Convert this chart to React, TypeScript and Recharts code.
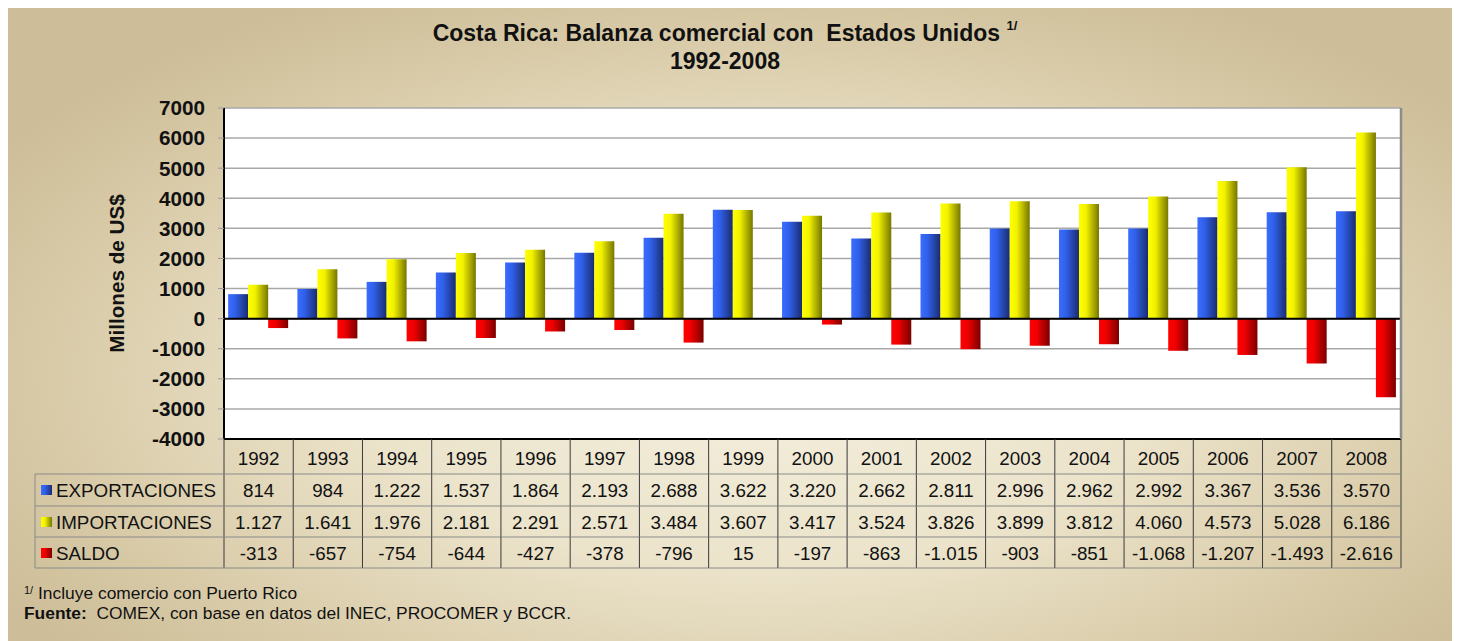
import { BarChart, Bar, XAxis, YAxis, CartesianGrid, ReferenceLine, Label } from 'recharts';

const years = ['1992', '1993', '1994', '1995', '1996', '1997', '1998', '1999', '2000', '2001', '2002', '2003', '2004', '2005', '2006', '2007', '2008'];
const exportaciones = [814, 984, 1222, 1537, 1864, 2193, 2688, 3622, 3220, 2662, 2811, 2996, 2962, 2992, 3367, 3536, 3570];
const importaciones = [1127, 1641, 1976, 2181, 2291, 2571, 3484, 3607, 3417, 3524, 3826, 3899, 3812, 4060, 4573, 5028, 6186];
const saldo = [-313, -657, -754, -644, -427, -378, -796, 15, -197, -863, -1015, -903, -851, -1068, -1207, -1493, -2616];
const yTicks = [-4000, -3000, -2000, -1000, 0, 1000, 2000, 3000, 4000, 5000, 6000, 7000];

const data = years.map((year, i) => ({
  year,
  exp: exportaciones[i],
  imp: importaciones[i],
  saldo: saldo[i],
}));

const FONT = "'Liberation Sans', Arial, sans-serif";
const W = 1444;
const H = 633;
const MARGIN = { top: 100, right: 50, bottom: 73, left: 0 };
const Y_W = 216;
const X_H = 129;
const PLOT_L = MARGIN.left + Y_W;
const PLOT_R = W - MARGIN.right - 1;
const PLOT_B = H - MARGIN.bottom - X_H;
const BW = (PLOT_R - PLOT_L) / years.length;

// table rows under the plot
const ROW_LINES = [PLOT_B + 35, PLOT_B + 67, PLOT_B + 98, PLOT_B + 129];
const ROW_TEXT = [PLOT_B + 19, PLOT_B + 51, PLOT_B + 83, PLOT_B + 114];
const LEGEND_L = 27;

const rows = [
  { name: 'EXPORTACIONES', values: exportaciones, grad: 'gBlue' },
  { name: 'IMPORTACIONES', values: importaciones, grad: 'gYellow' },
  { name: 'SALDO', values: saldo, grad: 'gRed' },
];

const fmt = (n: number) => {
  const s = Math.abs(n).toString().replace(/\B(?=(\d{3})+(?!\d))/g, '.');
  return n < 0 ? '-' + s : s;
};

const TableTick = (props: any) => {
  const { x, payload, index } = props;
  const i = index ?? payload.index;
  const left = x - BW / 2;
  const right = x + BW / 2;
  const txt = { fontFamily: FONT, fontSize: 18.8, fill: '#111' };
  return (
    <g>
      <line x1={left} x2={left} y1={PLOT_B} y2={ROW_LINES[3]} stroke="#3a3a3a" strokeWidth={1} />
      {i === years.length - 1 && (
        <line x1={right} x2={right} y1={PLOT_B} y2={ROW_LINES[3]} stroke="#3a3a3a" strokeWidth={1} />
      )}
      {ROW_LINES.map((ly) => (
        <line key={ly} x1={left} x2={right} y1={ly} y2={ly} stroke="#8a8a8a" strokeWidth={1} />
      ))}
      <text x={x} y={ROW_TEXT[0]} textAnchor="middle" dominantBaseline="central" {...txt}>
        {payload.value}
      </text>
      {rows.map((r, k) => (
        <text key={r.name} x={x} y={ROW_TEXT[k + 1]} textAnchor="middle" dominantBaseline="central" {...txt}>
          {fmt(r.values[i])}
        </text>
      ))}
      {i === 0 && (
        <g>
          <line x1={LEGEND_L} x2={LEGEND_L} y1={ROW_LINES[0]} y2={ROW_LINES[3]} stroke="#8a8a8a" />
          {ROW_LINES.map((ly) => (
            <line key={'l' + ly} x1={LEGEND_L} x2={left} y1={ly} y2={ly} stroke="#8a8a8a" />
          ))}
          {rows.map((r, k) => (
            <g key={'leg' + r.name}>
              <rect x={LEGEND_L + 6} y={ROW_TEXT[k + 1] - 5} width={11} height={10} fill={`url(#${r.grad})`} />
              <text x={LEGEND_L + 21} y={ROW_TEXT[k + 1]} dominantBaseline="central" {...txt}>
                {r.name}
              </text>
            </g>
          ))}
        </g>
      )}
    </g>
  );
};

const App = () => {
  return (
    <div
      style={{
        position: 'relative',
        width: W,
        height: H,
        fontFamily: FONT,
        background:
          'radial-gradient(ellipse 62% 68% at 52% 58%, #f4efdf 0%, #ebe3ca 45%, #d8caa7 80%, #cdbd98 100%)',
      }}
    >
      <div
        style={{
          position: 'absolute',
          left: 0,
          top: 11,
          width: 1434,
          textAlign: 'center',
          fontWeight: 'bold',
          fontSize: 23,
          lineHeight: '28px',
          color: '#111',
        }}
      >
        <div>
          Costa Rica: Balanza comercial con&nbsp; Estados Unidos{' '}
          <sup style={{ fontSize: 13, verticalAlign: 'top', lineHeight: '14px' }}>1/</sup>
        </div>
        <div>1992-2008</div>
      </div>
      <BarChart
        width={W}
        height={H}
        data={data}
        margin={MARGIN}
        barCategoryGap="6%"
        barGap={0}
        style={{ position: 'absolute', left: 0, top: 0 }}
      >
        <defs>
          <linearGradient id="gBlue" x1="0" y1="0" x2="1" y2="0">
            <stop offset="0%" stopColor="#3a6cff" />
            <stop offset="35%" stopColor="#3060ea" />
            <stop offset="100%" stopColor="#1a2c6e" />
          </linearGradient>
          <linearGradient id="gYellow" x1="0" y1="0" x2="1" y2="0">
            <stop offset="0%" stopColor="#ffff00" />
            <stop offset="35%" stopColor="#f2f200" />
            <stop offset="100%" stopColor="#767600" />
          </linearGradient>
          <linearGradient id="gRed" x1="0" y1="0" x2="1" y2="0">
            <stop offset="0%" stopColor="#ff0000" />
            <stop offset="35%" stopColor="#f00000" />
            <stop offset="100%" stopColor="#7a0000" />
          </linearGradient>
        </defs>
        <CartesianGrid vertical={false} stroke="#a8a8a8" strokeWidth={1.5} fill="#ffffff" />
        <XAxis
          dataKey="year"
          interval={0}
          height={X_H}
          tickLine={false}
          axisLine={{ stroke: '#000', strokeWidth: 2 }}
          tick={(p: any) => <TableTick {...p} />}
        />
        <YAxis
          width={Y_W}
          domain={[-4000, 7000]}
          ticks={yTicks}
          interval={0}
          tickSize={6}
          tickMargin={13}
          tickLine={{ stroke: '#999' }}
          axisLine={{ stroke: '#000', strokeWidth: 2 }}
          tick={{ fontFamily: FONT, fontSize: 20.7, fontWeight: 'bold', fill: '#111' }}
        >
          <Label
            value="Millones de US$"
            angle={-90}
            position="center"
            dx={1}
            fontFamily={FONT}
            fontSize={20.7}
            fontWeight="bold"
            fill="#111"
          />
        </YAxis>
        <YAxis
          yAxisId="r"
          orientation="right"
          width={1}
          domain={[-4000, 7000]}
          tick={false}
          tickLine={false}
          axisLine={{ stroke: '#8c8c8c', strokeWidth: 2.5 }}
        />
        <Bar dataKey="exp" fill="url(#gBlue)" isAnimationActive={false} />
        <Bar dataKey="imp" fill="url(#gYellow)" isAnimationActive={false} />
        <Bar dataKey="saldo" fill="url(#gRed)" isAnimationActive={false} />
        <ReferenceLine y={0} stroke="#000" strokeWidth={2} />
      </BarChart>
      <div style={{ position: 'absolute', left: 16, top: 576, fontSize: 17.4, color: '#111', lineHeight: '19.5px' }}>
        <div>
          <sup style={{ fontSize: 11, verticalAlign: 'top', lineHeight: '12px' }}>1/</sup> Incluye comercio con Puerto Rico
        </div>
        <div>
          <b>Fuente:</b>&nbsp; COMEX, con base en datos del INEC, PROCOMER y BCCR.
        </div>
      </div>
    </div>
  );
};

export default App;
